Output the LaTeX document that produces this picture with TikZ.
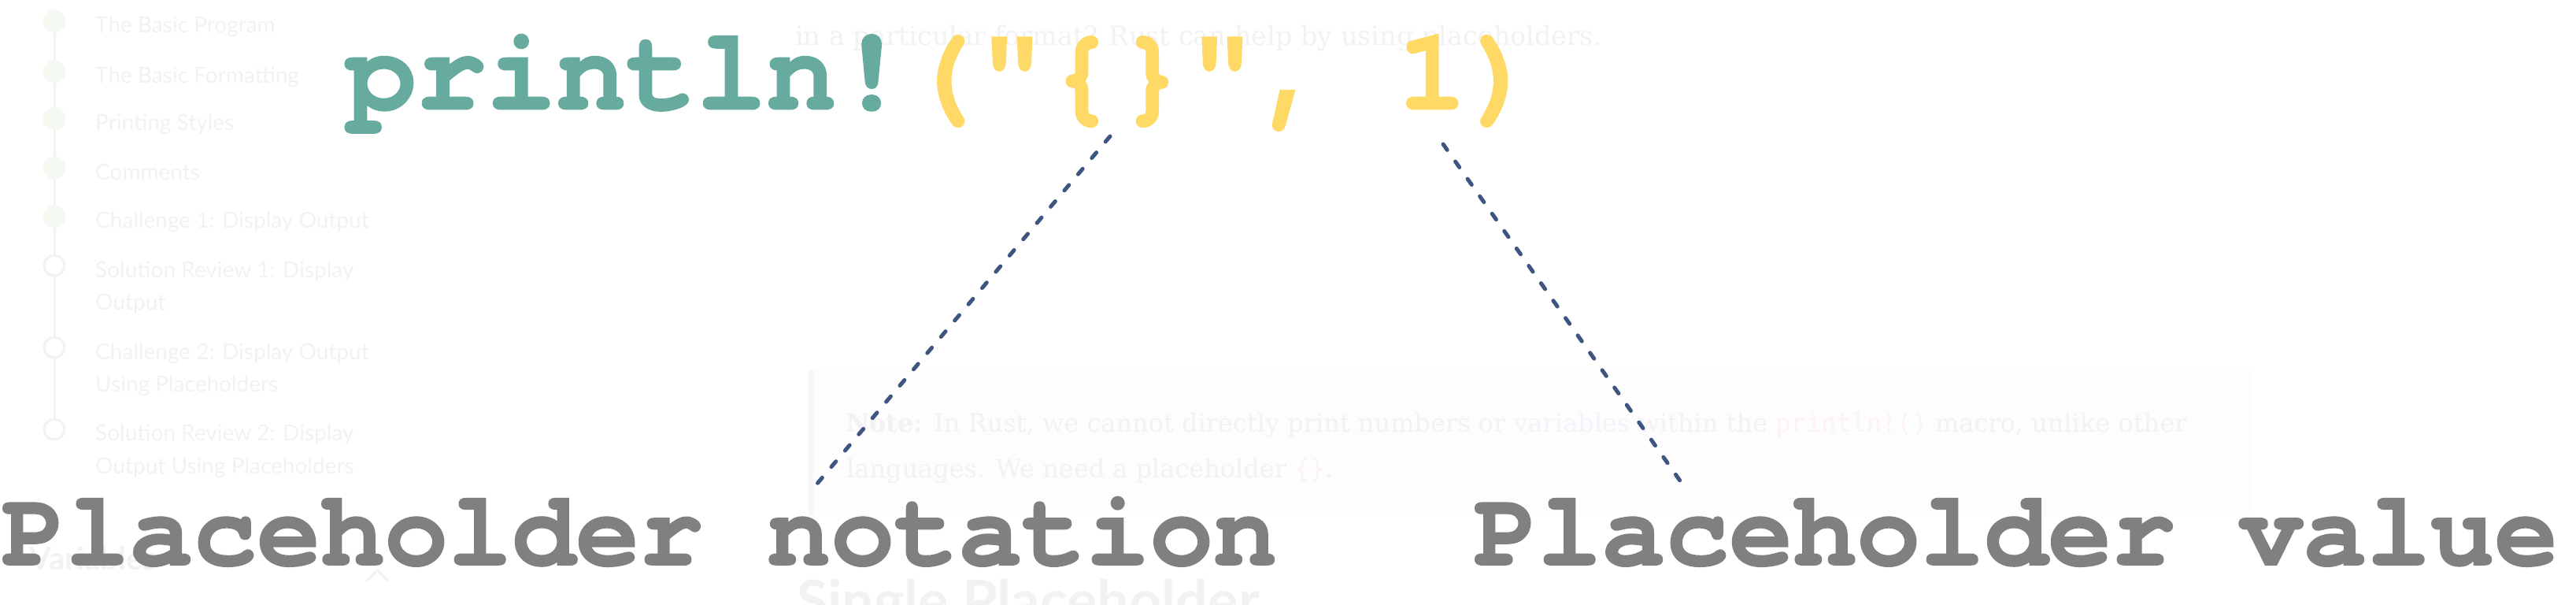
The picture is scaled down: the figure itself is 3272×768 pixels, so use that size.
\documentclass[tikz,border=0pt]{standalone}
\usepackage{fontspec}
\newfontfamily\curfont{TeX Gyre Cursor}[BoldFeatures={FakeBold=1.3}]
\newfontfamily\gsans{Lato}
\newfontfamily\gserif{DejaVu Serif}
\newfontfamily\gmono{DejaVu Sans Mono}
\definecolor{tealc}{HTML}{67AB9F}
\definecolor{yellowc}{HTML}{FFD966}
\definecolor{grayc}{HTML}{808080}
\definecolor{dashc}{HTML}{3D5580}
\definecolor{ghost}{HTML}{F2F2F2}
\definecolor{ghostgreen}{HTML}{F4F9F1}
\definecolor{ghostblue}{HTML}{F3F3FC}
\definecolor{ghostpink}{HTML}{FDF2F4}
\definecolor{ghostbox}{HTML}{FDFDFE}
\definecolor{ghostbar}{HTML}{F7F7FA}
\tikzset{
  codetext/.style={inner sep=0pt, anchor=base west, font=\curfont\bfseries\fontsize{148.3pt}{150pt}\selectfont},
  labeltext/.style={inner sep=0pt, anchor=base west, text=grayc, font=\curfont\bfseries\fontsize{135pt}{136pt}\selectfont},
  pointer/.style={draw=dashc, line width=5pt, line cap=round, dash pattern=on 9pt off 18pt},
  sidetext/.style={inner sep=0pt, anchor=base west, text=ghost, font=\gsans\fontsize{28pt}{30pt}\selectfont},
  sidedone/.style={fill=ghostgreen, draw=none, circle, minimum size=29pt, inner sep=0pt},
  sideopen/.style={fill=white, draw=ghost, line width=3pt, circle, minimum size=26pt, inner sep=0pt},
  serifghost/.style={inner sep=0pt, anchor=base west, text=ghost, font=\gserif\fontsize{32pt}{36pt}\selectfont},
}
\begin{document}
\begin{tikzpicture}[x=1pt,y=-1pt]
\useasboundingbox[fill=white] (0,0) rectangle (3272,768);
% faint background page
\draw[ghost, line width=3pt] (69,27) -- (69,545);
\foreach \yy/\nm in {27/c1,91/c2,151/c3,213/c4,275/c5} {\node[sidedone] (\nm) at (69,\yy) {};}
\foreach \yy/\nm in {337/c6,441/c7,545/c8} {\node[sideopen] (\nm) at (69,\yy) {};}
\node[sidetext] (t1) at (121,42) {The Basic Program};
\node[sidetext] (t2) at (121,105) {The Basic Formatting};
\node[sidetext] (t3) at (121,165) {Printing Styles};
\node[sidetext] (t4) at (121,228) {Comments};
\node[sidetext] (t5) at (121,289) {Challenge 1: Display Output};
\node[sidetext] (t6) at (121,352) {Solution Review 1: Display};
\node[sidetext] (t6b) at (121,393) {Output};
\node[sidetext] (t7) at (121,456) {Challenge 2: Display Output};
\node[sidetext] (t7b) at (121,497) {Using Placeholders};
\node[sidetext] (t8) at (121,559) {Solution Review 2: Display};
\node[sidetext] (t8b) at (121,601) {Output Using Placeholders};
\node[sidetext, font=\gsans\bfseries\fontsize{40pt}{44pt}\selectfont] (vars) at (37,723) {Variables};
\draw[ghost, line width=3pt, line cap=round, line join=round] (466,737) -- (479,724) -- (492,737);
\node[serifghost, font=\gserif\fontsize{33.5pt}{36pt}\selectfont] (intro) at (1010,58) {in a particular format? Rust can help by using placeholders.};
\fill[ghostbox] (1027,470) rectangle (2860,655);
\fill[ghostbar] (1027,470) rectangle (1033,655);
\node[serifghost] (note1) at (1075,548) {\textbf{Note:} In Rust, we cannot directly print numbers or {\color{ghostblue}variables} within the {\gmono\color{ghostpink}println!()} macro, unlike other};
\node[serifghost] (note2) at (1075,606) {languages. We need a placeholder {\gmono\color{ghostpink}\{\}}.};
\node[inner sep=0pt, anchor=base west, text=ghost, font=\gsans\bfseries\fontsize{72pt}{76pt}\selectfont] (single) at (1012,788) {Single Placeholder};
% main diagram
\node[codetext, text=tealc] (mac) at (439.5,138.5) {println!};
\node[codetext, text=yellowc] (args) at (mac.base east) {("\{\}", 1)};
\node[labeltext] (lnot) at (2,717) {Placeholder notation};
\node[labeltext] (lval) at (1872,717) {Placeholder value};
\coordinate (s1) at (1410,173);
\coordinate (e1) at (1032,621);
\coordinate (s2) at (1833,183);
\coordinate (e2) at (2138,616);
\draw[pointer] (s1) -- (e1);
\draw[pointer] (s2) -- (e2);
\end{tikzpicture}
\end{document}
